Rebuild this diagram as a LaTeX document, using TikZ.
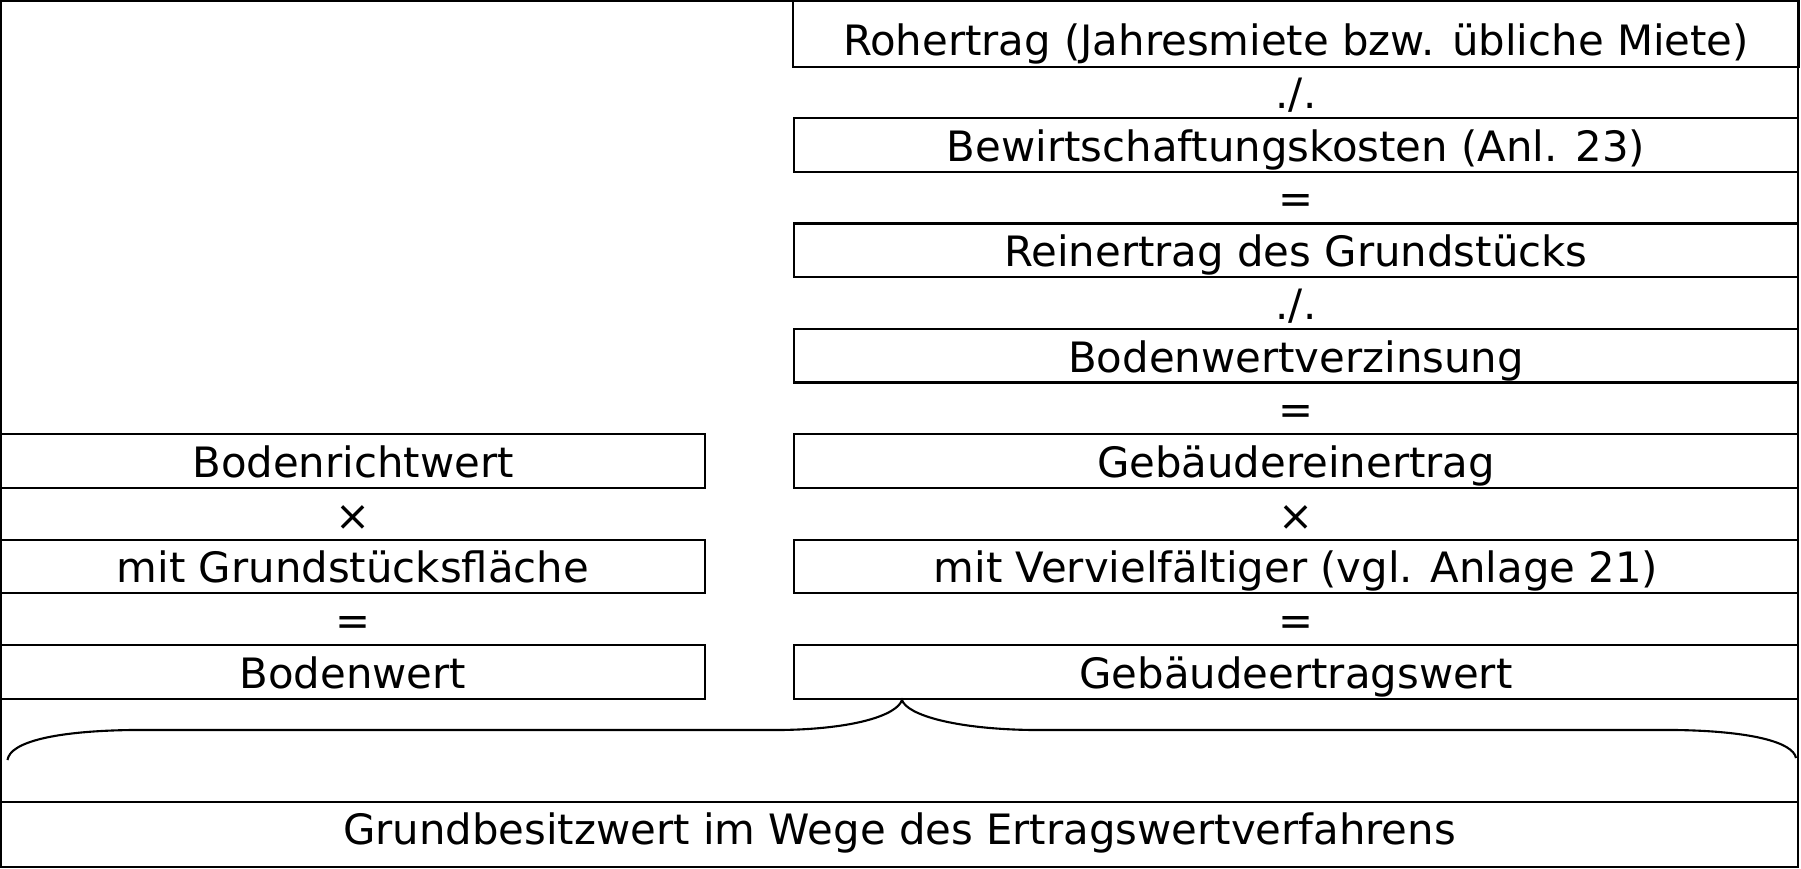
\documentclass[tikz,border=0pt]{standalone}
\usepackage{fontspec}
\setmainfont{DejaVu Sans}
\usepackage{tikz}

\begin{document}
\begin{tikzpicture}[
  font=\fontsize{11.9pt}{14pt}\selectfont,
  every node/.style={text height=0.93em, text depth=0pt, inner sep=0pt},
  feld/.style={draw, line width=0.6pt, minimum height=0.535cm},
  rechts/.style={feld, minimum width=10.04cm},
  links/.style={feld, minimum width=7.04cm}
]
\useasboundingbox (0,0) rectangle (18.01,-8.69);
\node[draw, line width=0.6pt, minimum width=17.97cm, minimum height=8.66cm] (rahmen) at (8.995,-4.34) {};

% Ertragswert des Gebaeudes
\node[minimum width=10.04cm, minimum height=0.535cm] (r1) at (12.96,-0.395) {Rohertrag (Jahresmiete bzw. übliche Miete)};
\node (o1) at (12.96,-0.922) {./.};
\node[rechts] (r2) at (12.96,-1.449) {Bewirtschaftungskosten (Anl. 23)};
\node (o2) at (12.96,-1.976) {=};
\node[rechts] (r3) at (12.96,-2.503) {Reinertrag des Grundstücks};
\node (o3) at (12.96,-3.03) {./.};
\node[rechts] (r4) at (12.96,-3.557) {Bodenwertverzinsung};
\node (o4) at (12.96,-4.084) {=};
\node[rechts] (r5) at (12.96,-4.611) {Gebäudereinertrag};
\node (o5) at (12.96,-5.138) {×};
\node[rechts] (r6) at (12.96,-5.665) {mit Vervielfältiger (vgl. Anlage 21)};
\node (o6) at (12.96,-6.192) {=};
\node[rechts] (r7) at (12.96,-6.719) {Gebäudeertragswert};

% Bodenwert
\node[links] (l1) at (3.53,-4.611) {Bodenrichtwert};
\node (p1) at (3.53,-5.138) {×};
\node[links] (l2) at (3.53,-5.665) {mit Grundstücksfläche};
\node (p2) at (3.53,-6.192) {=};
\node[links] (l3) at (3.53,-6.719) {Bodenwert};

\draw[line width=0.6pt] (r1.south west) rectangle (r1.east |- rahmen.north);

% Klammer
\draw[line width=0.6pt] (0.075,-7.60) .. controls (0.10,-7.42) and (0.55,-7.31) .. (1.32,-7.30)
  -- (7.81,-7.30) .. controls (8.55,-7.29) and (8.97,-7.15) .. (9.02,-7.00)
  .. controls (9.07,-7.15) and (9.55,-7.29) .. (10.32,-7.30)
  -- (16.75,-7.30) .. controls (17.5,-7.31) and (17.93,-7.42) .. (17.96,-7.58);

\node[draw, line width=0.6pt, text height=0.55em, minimum width=17.97cm, minimum height=0.65cm] (g) at (8.995,-8.345) {Grundbesitzwert im Wege des Ertragswertverfahrens};
\end{tikzpicture}
\end{document}
